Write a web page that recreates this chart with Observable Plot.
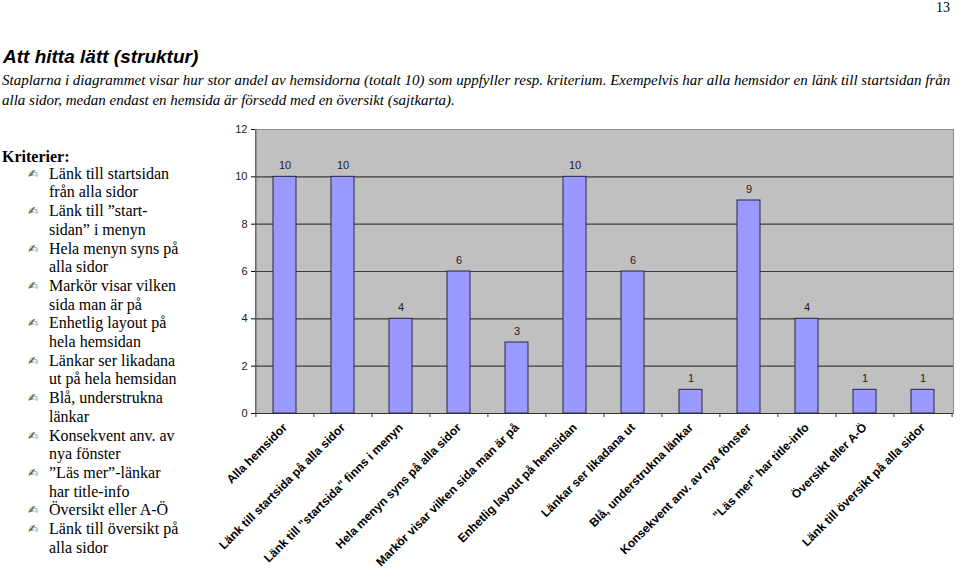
<!DOCTYPE html>
<html><head><meta charset="utf-8">
<script src="https://cdn.jsdelivr.net/npm/d3@7"></script>
<script src="https://cdn.jsdelivr.net/npm/@observablehq/plot@0.6"></script>
<style>
html,body{margin:0;padding:0;background:#fff;}
body{width:960px;height:574px;position:relative;overflow:hidden;}
#pageno{position:absolute;top:0px;left:936px;font:14px "Liberation Serif",serif;color:#000;}
#title{position:absolute;top:46px;left:3px;font:italic bold 19px "Liberation Sans",Arial,sans-serif;color:#000;white-space:nowrap;}
#subtitle{position:absolute;top:70px;left:2px;font:italic 15px/20px "Liberation Serif",serif;color:#000;white-space:nowrap;}
#list{position:absolute;top:148px;left:2px;font:16px/18.7px "Liberation Serif",serif;color:#000;}
#list .head{font-weight:bold;margin-bottom:-2px;}
#list .item{position:relative;padding-left:47px;white-space:nowrap;}
#list .bullet{position:absolute;left:26px;top:0;font:12px/18.7px "DejaVu Sans",sans-serif;color:#444;}
#chart{position:absolute;left:200px;top:120px;}
#chart g[aria-label^="x-axis"] text{font-weight:bold;fill:#000;font-size:12px;}
#chart g[aria-label^="y-axis"] text{fill:#222;}
</style></head>
<body>
<div id="pageno"></div>
<div id="title"></div>
<div id="subtitle"></div>
<div id="list"></div>
<div id="chart"></div>
<script>
const pageNumber = "13";
const titleText = "Att hitta lätt (struktur)";
const subtitleLines = [
  "Staplarna i diagrammet visar hur stor andel av hemsidorna (totalt 10) som uppfyller resp. kriterium. Exempelvis har alla hemsidor en länk till startsidan från",
  "alla sidor, medan endast en hemsida är försedd med en översikt (sajtkarta)."
];
const listHeading = "Kriterier:";
const criteria = [
  ["Länk till startsidan", "från alla sidor"],
  ["Länk till ”start-", "sidan” i menyn"],
  ["Hela menyn syns på", "alla sidor"],
  ["Markör visar vilken", "sida man är på"],
  ["Enhetlig layout på", "hela hemsidan"],
  ["Länkar ser likadana", "ut på hela hemsidan"],
  ["Blå, understrukna", "länkar"],
  ["Konsekvent anv. av", "nya fönster"],
  ["”Läs mer”-länkar", "har title-info"],
  ["Översikt eller A-Ö"],
  ["Länk till översikt på", "alla sidor"]
];
const categories = [
  "Alla hemsidor",
  "Länk till startsida på alla sidor",
  "Länk till \"startsida\" finns i menyn",
  "Hela menyn syns på alla sidor",
  "Markör visar vilken sida man är på",
  "Enhetlig layout på hemsidan",
  "Länkar ser likadana ut",
  "Blå, understrukna länkar",
  "Konsekvent anv. av nya fönster",
  "\"Läs mer\" har title-info",
  "Översikt eller A-Ö",
  "Länk till översikt på alla sidor"
];
const counts = [10, 10, 4, 6, 3, 10, 6, 1, 9, 4, 1, 1];
const yTicks = [0, 2, 4, 6, 8, 10, 12];
const gridValues = [2, 4, 6, 8, 10];

document.getElementById("pageno").textContent = pageNumber;
document.getElementById("title").textContent = titleText;
document.getElementById("subtitle").innerHTML = subtitleLines.map(s => s.replace(/&/g,"&amp;").replace(/</g,"&lt;")).join("<br>");
const list = document.getElementById("list");
const h = document.createElement("div"); h.className = "head"; h.textContent = listHeading; list.appendChild(h);
for (const lines of criteria) {
  const it = document.createElement("div"); it.className = "item";
  const b = document.createElement("span"); b.className = "bullet"; b.textContent = "✍";
  it.appendChild(b);
  lines.forEach((l, i) => { if (i) it.appendChild(document.createElement("br")); it.appendChild(document.createTextNode(l)); });
  list.appendChild(it);
}

const data = categories.map((c, i) => ({category: c, value: counts[i]}));
const W = 760, H = 454, mL = 55, mR = 7, mT = 9, mB = 161;
const step = (W - mL - mR) / categories.length;
const last = categories[categories.length - 1];

const plot = Plot.plot({
  width: W, height: H,
  marginLeft: mL, marginRight: mR, marginTop: mT, marginBottom: mB,
  style: {fontFamily: "'Liberation Sans', Arial, sans-serif", fontSize: "11px", background: "transparent", overflow: "visible"},
  x: {domain: categories, paddingInner: 0.6, paddingOuter: 0.3, tickRotate: -45, tickSize: 0, tickPadding: 12, label: null},
  y: {domain: [0, 12], ticks: yTicks, tickSize: 4, tickPadding: 4, label: null},
  marks: [
    Plot.frame({fill: "#c0c0c0", stroke: "#8a8a8a"}),
    Plot.ruleY(gridValues, {stroke: "#3c3c3c", strokeWidth: 1.2}),
    Plot.barY(data, {x: "category", y: "value", fill: "#9999ff", stroke: "#26264a", strokeWidth: 1}),
    Plot.text(data, {x: "category", y: "value", text: d => String(d.value), dy: -11, fill: "#222", fontSize: 11}),
    Plot.ruleY([0], {stroke: "#333"}),
    Plot.ruleX(categories, {x: d => d, y1: 0, y2: -0.17, dx: -step / 2, stroke: "#333"}),
    Plot.ruleX([last], {x: d => d, y1: 0, y2: -0.17, dx: step / 2, stroke: "#333"}),
    Plot.ruleX([categories[0]], {x: d => d, y1: 0, y2: 12, dx: -step / 2, stroke: "#555"})
  ]
});
document.getElementById("chart").appendChild(plot);
</script>
</body></html>
